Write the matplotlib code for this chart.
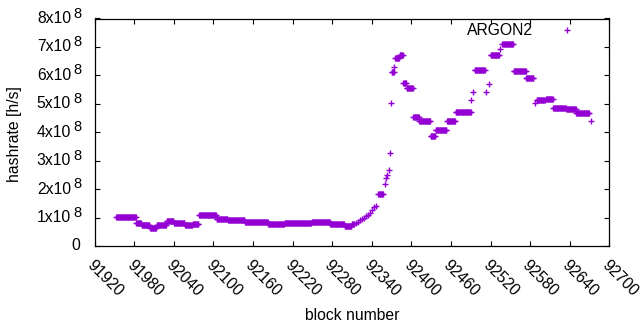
import matplotlib.pyplot as plt
from matplotlib import transforms

plt.rcParams['font.family'] = ['Liberation Sans', 'DejaVu Sans']
plt.rcParams['font.size'] = 11.3

# hashrate runs: first block, last block, rate (x1e8 h/s)
run_first = [91953, 91983, 91991, 92004, 92014, 92029, 92040, 92057, 92069, 92078,
             92105, 92122, 92140, 92148, 92183, 92208, 92249, 92277, 92299, 92310,
             92316, 92319, 92322, 92325, 92328, 92331, 92334, 92337, 92340, 92344,
             92347, 92350, 92360, 92362, 92363, 92366, 92368, 92369, 92370, 92374,
             92375, 92382, 92388, 92393, 92403, 92412, 92429, 92437, 92454, 92467,
             92491, 92494, 92496, 92513, 92517, 92520, 92535, 92538, 92555, 92574,
             92587, 92590, 92604, 92615, 92635, 92650, 92673]
run_last = [91982, 91990, 92003, 92013, 92028, 92039, 92056, 92068, 92077, 92104,
            92121, 92139, 92147, 92182, 92207, 92248, 92276, 92298, 92309, 92313,
            92316, 92319, 92322, 92325, 92328, 92331, 92334, 92337, 92340, 92344,
            92347, 92357, 92360, 92362, 92363, 92366, 92368, 92369, 92373, 92374,
            92381, 92387, 92392, 92402, 92411, 92428, 92436, 92453, 92466, 92490,
            92491, 92494, 92511, 92513, 92517, 92533, 92535, 92554, 92573, 92585,
            92587, 92602, 92614, 92634, 92649, 92669, 92673]
run_rate = [1.01, 0.81, 0.73, 0.64, 0.74, 0.88, 0.80, 0.74, 0.78, 1.09,
            0.95, 0.90, 0.92, 0.84, 0.79, 0.82, 0.84, 0.78, 0.70, 0.78,
            0.82, 0.86, 0.90, 0.95, 1.00, 1.05, 1.10, 1.17, 1.26, 1.38,
            1.41, 1.82, 2.19, 2.40, 2.50, 2.68, 3.26, 5.02, 6.13, 6.30,
            6.60, 6.70, 5.73, 5.55, 4.55, 4.40, 3.87, 4.07, 4.40, 4.72,
            5.13, 5.40, 6.19, 5.42, 5.69, 6.70, 6.93, 7.10, 6.16, 5.90,
            5.02, 5.13, 5.17, 4.87, 4.82, 4.67, 4.40]

xtick_vals = list(range(91920, 92701, 60))
ytick_vals = [i * 1e8 for i in range(9)]

blocks = []
rates = []
for a, b, r in zip(run_first, run_last, run_rate):
    for n in range(a, b + 1):
        blocks.append(n)
        rates.append(r * 1e8)

fig = plt.figure(figsize=(6.4, 3.3), dpi=100)
ax = fig.add_axes([94.7 / 640, 1 - 246 / 330, 514.6 / 640, 227.5 / 330])
ax.plot(blocks, rates, '+', color='#9400d3', ms=4.8, mew=1.0, label='ARGON2')

ax.set_xlim(91920, 92700)
ax.set_ylim(0, 8e8)
ax.set_xticks(xtick_vals)
ax.set_xticklabels([str(v) for v in xtick_vals], rotation=-45, ha='left', va='top',
                   rotation_mode='anchor')
ax.set_yticks(ytick_vals)
ax.set_yticklabels([])
ax.tick_params(direction='in', length=3.3, width=0.8, top=True, right=True)
ax.tick_params(axis='x', pad=8)
for s in ax.spines.values():
    s.set_linewidth(0.9)

# y tick labels gnuplot style: "5x10" with raised exponent
tr = transforms.blended_transform_factory(fig.transFigure, ax.transData)
off = transforms.ScaledTranslation(0, 5 / 100, fig.dpi_scale_trans)
ax.text(80.7 / 640, 0, '0', transform=tr, ha='right', va='center', clip_on=False)
for i in range(1, 9):
    ax.text(71 / 640, i * 1e8, '%dx10' % i, transform=tr, ha='right', va='center',
            clip_on=False)
    ax.text(73 / 640, i * 1e8, '8', transform=tr + off, ha='left', va='center',
            fontsize=10.5, clip_on=False)

fig.text(15 / 640, 1 - 134 / 330, 'hashrate [h/s]', rotation=90, ha='center', va='center')
fig.text(352 / 640, 1 - 316 / 330, 'block number', ha='center', va='center')

ax.legend(loc='upper right', frameon=False, markerfirst=False, handlelength=2,
          handletextpad=1.2, borderpad=0, borderaxespad=0,
          bbox_to_anchor=(583 / 640, 1 - 23 / 330), bbox_transform=fig.transFigure)

fig.savefig('out.png', dpi=100)
